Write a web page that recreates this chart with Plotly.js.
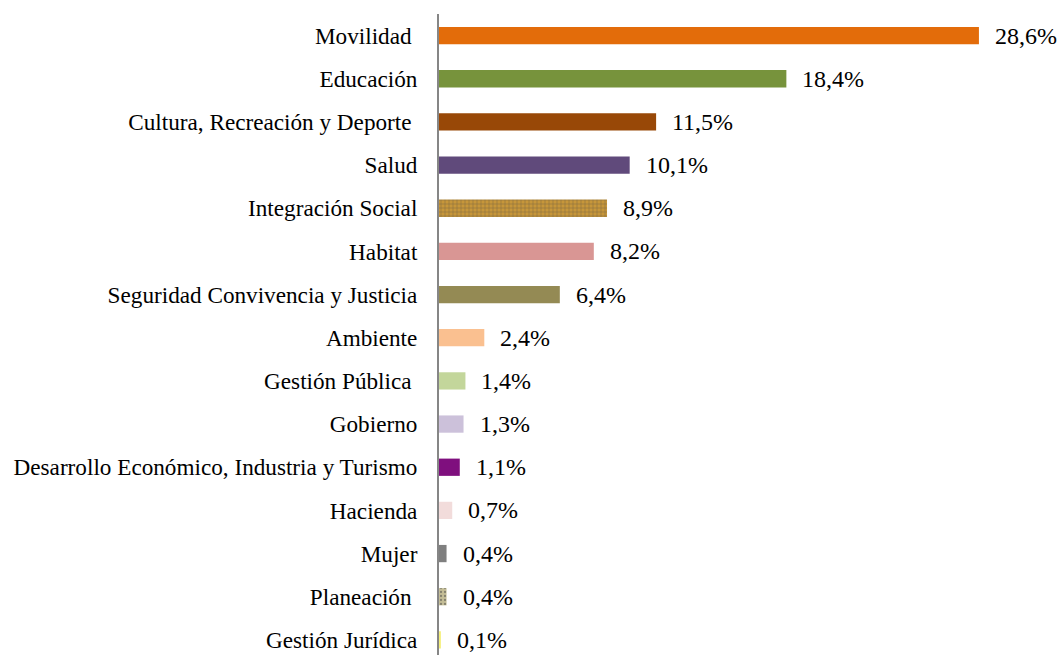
<!DOCTYPE html>
<html>
<head>
<meta charset="utf-8">
<script src="https://cdn.plot.ly/plotly-3.0.1.min.js"></script>
<style>html,body{margin:0;padding:0;background:#fff;}#chart{width:1062px;height:655px;}</style>
</head>
<body>
<div id="chart"></div>
<script>
var categories = ["Movilidad", "Educación", "Cultura, Recreación y Deporte", "Salud", "Integración Social", "Habitat", "Seguridad Convivencia y Justicia", "Ambiente", "Gestión Pública", "Gobierno", "Desarrollo Económico, Industria y Turismo", "Hacienda", "Mujer", "Planeación", "Gestión Jurídica"];
var tickLabels = ["Movilidad\u00a0", "Educación", "Cultura, Recreación y Deporte\u00a0", "Salud", "Integración Social", "Habitat", "Seguridad Convivencia y Justicia", "Ambiente", "Gestión Pública\u00a0", "Gobierno", "Desarrollo Económico, Industria y Turismo", "Hacienda", "Mujer", "Planeación\u00a0", "Gestión Jurídica"];
var values = [28.6, 18.4, 11.5, 10.1, 8.9, 8.2, 6.4, 2.4, 1.4, 1.3, 1.1, 0.7, 0.4, 0.4, 0.1];
var valueLabels = ["28,6%", "18,4%", "11,5%", "10,1%", "8,9%", "8,2%", "6,4%", "2,4%", "1,4%", "1,3%", "1,1%", "0,7%", "0,4%", "0,4%", "0,1%"];
var colors = ["#E36C0A", "#77933C", "#984807", "#604A7B", "#C6963A", "#D99694", "#948A54", "#FAC090", "#C3D69B", "#CCC1DA", "#7F0F7E", "#F2DCDB", "#7F7F7F", "#C4BD97", "#F5F07A"];
var patterns = ["", "", "", "", "+", "", "", "", "", "", "", "", "", ".", ""];
var patternFg = ["#fff", "#fff", "#fff", "#fff", "#F0DAA0", "#fff", "#fff", "#fff", "#fff", "#fff", "#fff", "#fff", "#fff", "#A39C7E", "#fff"];

var serif = "Liberation Serif";

var trace = {
  type: "bar",
  orientation: "h",
  x: values,
  y: categories,
  width: 0.4,
  marker: {
    color: colors,
    line: {width: 0},
    pattern: {shape: patterns, fgcolor: patternFg, size: 4, solidity: 0.25, fillmode: "overlay"}
  },
  hoverinfo: "none"
};

var annotations = values.map(function(v, i) {
  return {
    x: v, y: categories[i], xref: "x", yref: "y",
    text: valueLabels[i], showarrow: false,
    xanchor: "left", yanchor: "middle", xshift: 14,
    font: {family: serif, size: 24, color: "#000"}
  };
});

var layout = {
  width: 1062, height: 655,
  margin: {l: 439, r: 0, t: 14, b: 0},
  paper_bgcolor: "#fff", plot_bgcolor: "#fff",
  showlegend: false,
  font: {family: serif},
  xaxis: {range: [0, 33], visible: false, fixedrange: true},
  yaxis: {
    type: "category",
    categoryorder: "array", categoryarray: categories,
    tickmode: "array", tickvals: categories, ticktext: tickLabels,
    range: [14.35, -0.5],
    showline: true, linecolor: "#868686", linewidth: 2,
    showgrid: false, zeroline: false,
    ticks: "", ticklabelstandoff: 15,
    tickfont: {family: serif, size: 23.2, color: "#000"}
  },
  annotations: annotations
};

Plotly.newPlot("chart", [trace], layout, {displayModeBar: false, staticPlot: true});
</script>
</body>
</html>
